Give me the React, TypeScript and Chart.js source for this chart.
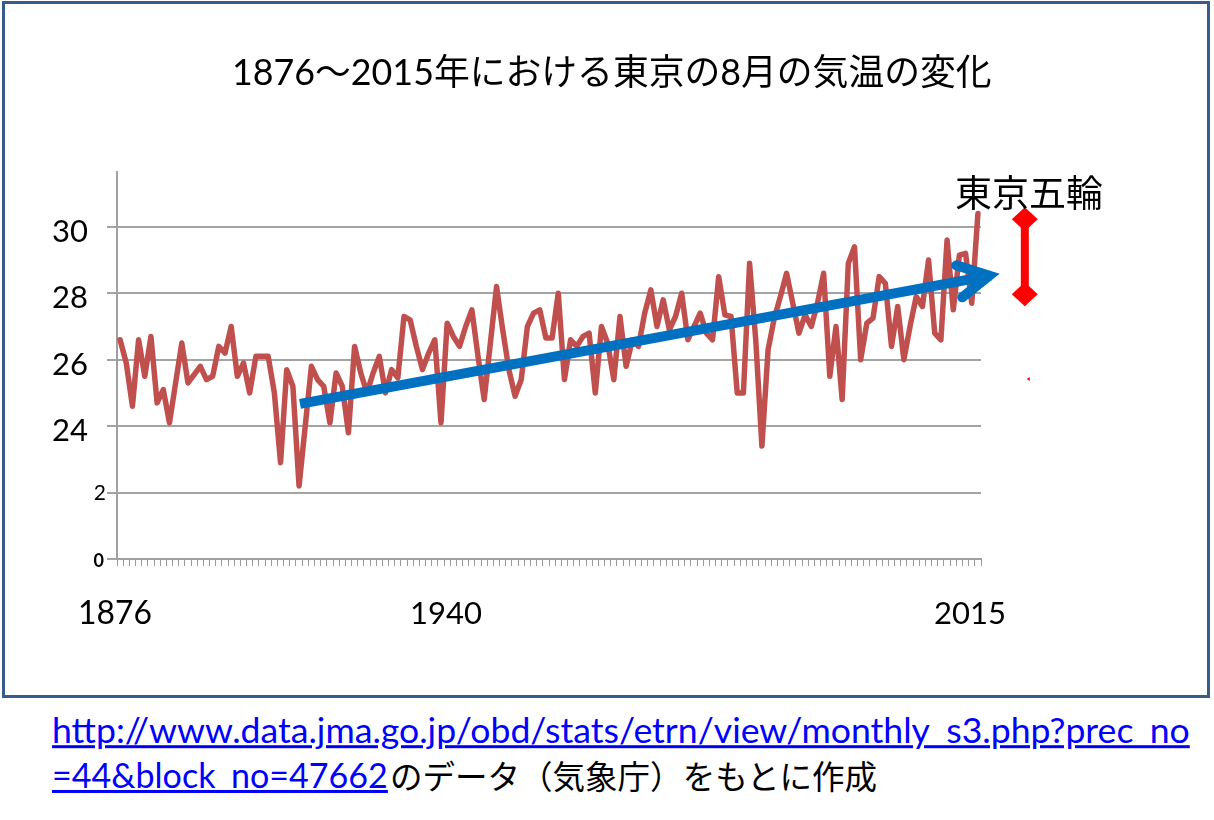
import React, { useEffect, useRef } from "react";
import { Chart, registerables } from "chart.js";
Chart.register(...registerables);

// Categories: years 1876–2015
const years: string[] = [
  "1876","1877","1878","1879","1880","1881","1882","1883","1884","1885",
  "1886","1887","1888","1889","1890","1891","1892","1893","1894","1895",
  "1896","1897","1898","1899","1900","1901","1902","1903","1904","1905",
  "1906","1907","1908","1909","1910","1911","1912","1913","1914","1915",
  "1916","1917","1918","1919","1920","1921","1922","1923","1924","1925",
  "1926","1927","1928","1929","1930","1931","1932","1933","1934","1935",
  "1936","1937","1938","1939","1940","1941","1942","1943","1944","1945",
  "1946","1947","1948","1949","1950","1951","1952","1953","1954","1955",
  "1956","1957","1958","1959","1960","1961","1962","1963","1964","1965",
  "1966","1967","1968","1969","1970","1971","1972","1973","1974","1975",
  "1976","1977","1978","1979","1980","1981","1982","1983","1984","1985",
  "1986","1987","1988","1989","1990","1991","1992","1993","1994","1995",
  "1996","1997","1998","1999","2000","2001","2002","2003","2004","2005",
  "2006","2007","2008","2009","2010","2011","2012","2013","2014","2015",
];

// August mean temperature in Tokyo
const augustTemps: number[] = [
  26.6, 25.9, 24.6, 26.6, 25.5, 26.7, 24.7, 25.1, 24.1, 25.3,
  26.5, 25.3, 25.55, 25.8, 25.4, 25.5, 26.4, 26.2, 27.0, 25.5,
  25.9, 25.0, 26.1, 26.1, 26.1, 25.0, 22.9, 25.7, 25.2, 22.2,
  24.0, 25.8, 25.4, 25.2, 24.1, 25.6, 25.2, 23.8, 26.4, 25.6,
  25.0, 25.6, 26.1, 25.0, 25.7, 25.45, 27.3, 27.2, 26.4, 25.7,
  26.2, 26.6, 24.1, 27.1, 26.7, 26.4, 27.0, 27.5, 26.1, 24.8,
  26.5, 28.2, 26.9, 25.7, 24.9, 25.4, 27.0, 27.4, 27.5, 26.65,
  26.65, 28.0, 25.4, 26.6, 26.4, 26.7, 26.8, 25.0, 27.0, 26.5,
  25.4, 27.3, 25.8, 26.6, 26.4, 27.4, 28.1, 27.0, 27.8, 26.9,
  27.3, 28.0, 26.6, 27.0, 27.4, 26.8, 26.6, 28.5, 27.35, 27.3,
  25.0, 25.0, 28.9, 26.6, 23.4, 26.3, 27.25, 27.9, 28.6, 27.7,
  26.8, 27.35, 27.0, 27.7, 28.6, 25.5, 27.0, 24.8, 28.9, 29.4,
  26.0, 27.1, 27.25, 28.5, 28.3, 26.4, 27.6, 26.0, 27.0, 27.9,
  27.6, 29.0, 26.8, 26.6, 29.6, 27.5, 29.15, 29.2, 27.7, 30.4,
];

const yTickValues: number[] = [30, 28, 26, 24, 22, 20];
const yTickLabels: string[] = ["30", "28", "26", "24", "2", "0"];

// Annotation anchors in data units (category index, °C)
const trendFrom = { idx: 29.16, val: 24.67 };
const trendTo = { idx: 141.8, val: 28.56 };
const olympicIdx = 146.6;
const olympicTop = 30.23;
const olympicBottom = 27.97;
const strayDot = { idx: 147.4, val: 25.42 };

const titleText = "1876〜2015年における東京の8月の気温の変化";
const olympicText = "東京五輪";
const yearMarks: string[] = ["1876", "1940", "2015"];
const urlLine1 = "http://www.data.jma.go.jp/obd/stats/etrn/view/monthly_s3.php?prec_no";
const urlLine2 = "=44&block_no=47662";
const sourceText = "のデータ（気象庁）をもとに作成";

const LATIN = "Lato, 'Noto Sans CJK JP', sans-serif";
const JP = "'Noto Sans CJK JP', sans-serif";

let measureCtx: CanvasRenderingContext2D | null = null;
function measure(text: string, family: string): number {
  if (!measureCtx) measureCtx = document.createElement("canvas").getContext("2d");
  measureCtx!.font = `100px ${family}`;
  return measureCtx!.measureText(text).width;
}

function FitText(props: {
  text: string; left: number; width: number; cy: number; family: string;
  color?: string; underline?: boolean;
}) {
  const size = (100 * props.width) / measure(props.text, props.family);
  return (
    <div
      style={{
        position: "absolute",
        left: props.left,
        top: props.cy,
        transform: "translateY(-50%)",
        fontSize: size,
        lineHeight: 1,
        fontFamily: props.family,
        color: props.color || "#000",
        whiteSpace: "nowrap",
        textDecoration: props.underline ? "underline" : "none",
      }}
    >
      {props.text}
    </div>
  );
}

const overlayPlugin = {
  id: "overlay",
  afterDatasetsDraw(chart: any) {
    const { ctx } = chart;
    const xs = chart.scales.x;
    const ys = chart.scales.y;
    ctx.save();
    // blue trend arrow
    const x0 = xs.getPixelForValue(trendFrom.idx);
    const y0 = ys.getPixelForValue(trendFrom.val);
    const x1 = xs.getPixelForValue(trendTo.idx);
    const y1 = ys.getPixelForValue(trendTo.val);
    ctx.strokeStyle = "#0070C0";
    ctx.lineWidth = 10;
    ctx.lineCap = "butt";
    ctx.beginPath();
    ctx.moveTo(x0, y0);
    ctx.lineTo(x1 - 4, y1 + 0.75);
    ctx.stroke();
    const ang = Math.atan2(y1 - y0, x1 - x0) + Math.PI;
    const spread = (24 * Math.PI) / 180;
    const len = 40;
    ctx.lineJoin = "miter";
    ctx.lineCap = "round";
    ctx.beginPath();
    ctx.moveTo(x1 + len * Math.cos(ang + spread), y1 + len * Math.sin(ang + spread));
    ctx.lineTo(x1 - 6, y1 + 1);
    ctx.lineTo(x1 + len * Math.cos(ang - spread), y1 + len * Math.sin(ang - spread));
    ctx.stroke();

    // red olympic marker
    const ox = xs.getPixelForValue(olympicIdx);
    const oyTop = ys.getPixelForValue(olympicTop);
    const oyBot = ys.getPixelForValue(olympicBottom);
    ctx.strokeStyle = "#FF0000";
    ctx.fillStyle = "#FF0000";
    ctx.lineWidth = 8;
    ctx.lineCap = "butt";
    ctx.beginPath();
    ctx.moveTo(ox, oyTop);
    ctx.lineTo(ox, oyBot);
    ctx.stroke();
    const dw = 13, dh = 12;
    [oyTop, oyBot].forEach((cy) => {
      ctx.beginPath();
      ctx.moveTo(ox, cy - dh);
      ctx.lineTo(ox + dw, cy);
      ctx.lineTo(ox, cy + dh);
      ctx.lineTo(ox - dw, cy);
      ctx.closePath();
      ctx.fill();
    });
    // stray tiny red dot
    const sx = xs.getPixelForValue(strayDot.idx);
    const sy = ys.getPixelForValue(strayDot.val);
    ctx.beginPath();
    ctx.moveTo(sx - 3, sy);
    ctx.lineTo(sx, sy - 2);
    ctx.lineTo(sx, sy + 2);
    ctx.closePath();
    ctx.fill();
    ctx.restore();
  },
  afterDraw(chart: any) {
    const { ctx } = chart;
    const ys = chart.scales.y;
    ctx.save();
    ctx.fillStyle = "#000";
    ctx.textBaseline = "middle";
    ctx.textAlign = "right";
    yTickValues.forEach((v, i) => {
      const py = ys.getPixelForValue(v);
      const lab = yTickLabels[i];
      if (lab.length > 1) {
        ctx.font = `31px ${LATIN}`;
        ctx.fillText(lab, 88, py + 5);
      } else if (v === 22) {
        ctx.font = `21px ${LATIN}`;
        ctx.fillText(lab, 106, py + 1);
      } else {
        ctx.font = `bold 18px ${LATIN}`;
        ctx.fillText(lab, 104, py + 2);
      }
    });
    ctx.restore();
  },
};

export default function App() {
  const canvasRef = useRef<HTMLCanvasElement | null>(null);

  useEffect(() => {
    if (!canvasRef.current) return;
    const chart = new Chart(canvasRef.current, {
      type: "line",
      data: {
        labels: years,
        datasets: [
          {
            label: "東京の8月の気温",
            data: augustTemps,
            borderColor: "#C0504D",
            borderWidth: 5.5,
            pointRadius: 0,
            tension: 0,
            fill: false,
            borderJoinStyle: "round",
            borderCapStyle: "round",
          },
        ],
      },
      options: {
        animation: false,
        responsive: false,
        devicePixelRatio: 1,
        layout: { padding: { left: 0, right: 233, top: 172, bottom: 121 } },
        plugins: {
          legend: { display: false },
          tooltip: { enabled: false },
          title: { display: false },
        },
        scales: {
          x: {
            type: "category",
            offset: true,
            grid: {
              display: true,
              drawOnChartArea: false,
              drawTicks: true,
              tickLength: 7,
              color: "#9A9A9A",
              lineWidth: 1,
              offset: true,
            },
            border: { display: true, color: "#A0A0A0", width: 2 },
            ticks: { display: false, autoSkip: false },
            afterFit: (s: any) => {
              s.height = 20;
            },
          },
          y: {
            min: 20,
            max: 31.65,
            grid: { color: "#A3A3A3", lineWidth: 2, tickLength: 10, drawTicks: true },
            border: { display: true, color: "#A0A0A0", width: 2 },
            ticks: { display: false, stepSize: 2, includeBounds: false },
            afterFit: (s: any) => {
              s.width = 117;
            },
          },
        },
      },
      plugins: [overlayPlugin],
    } as any);
    return () => chart.destroy();
  }, []);

  return (
    <div style={{ position: "absolute", left: 0, top: 0, width: 1214, height: 820, background: "#fff", overflow: "hidden" }}>
      <div
        style={{
          position: "absolute",
          left: 2,
          top: 1,
          width: 1208,
          height: 697,
          boxSizing: "border-box",
          border: "3px solid #385D8A",
        }}
      />
      <canvas ref={canvasRef} width={1214} height={700} style={{ position: "absolute", left: 0, top: 0 }} />
      <FitText text={titleText} left={232} width={760} cy={72} family={LATIN} />
      <FitText text={olympicText} left={955} width={148} cy={191} family={JP} />
      <FitText text={yearMarks[0]} left={78} width={74} cy={613} family={LATIN} />
      <FitText text={yearMarks[1]} left={410} width={72} cy={613} family={LATIN} />
      <FitText text={yearMarks[2]} left={934} width={72} cy={613} family={LATIN} />
      <FitText text={urlLine1} left={52} width={1138} cy={730} family={LATIN} color="#0000FF" underline />
      <FitText text={urlLine2} left={52} width={336} cy={775} family={LATIN} color="#0000FF" underline />
      <FitText text={sourceText} left={390} width={488} cy={775} family={JP} />
    </div>
  );
}
